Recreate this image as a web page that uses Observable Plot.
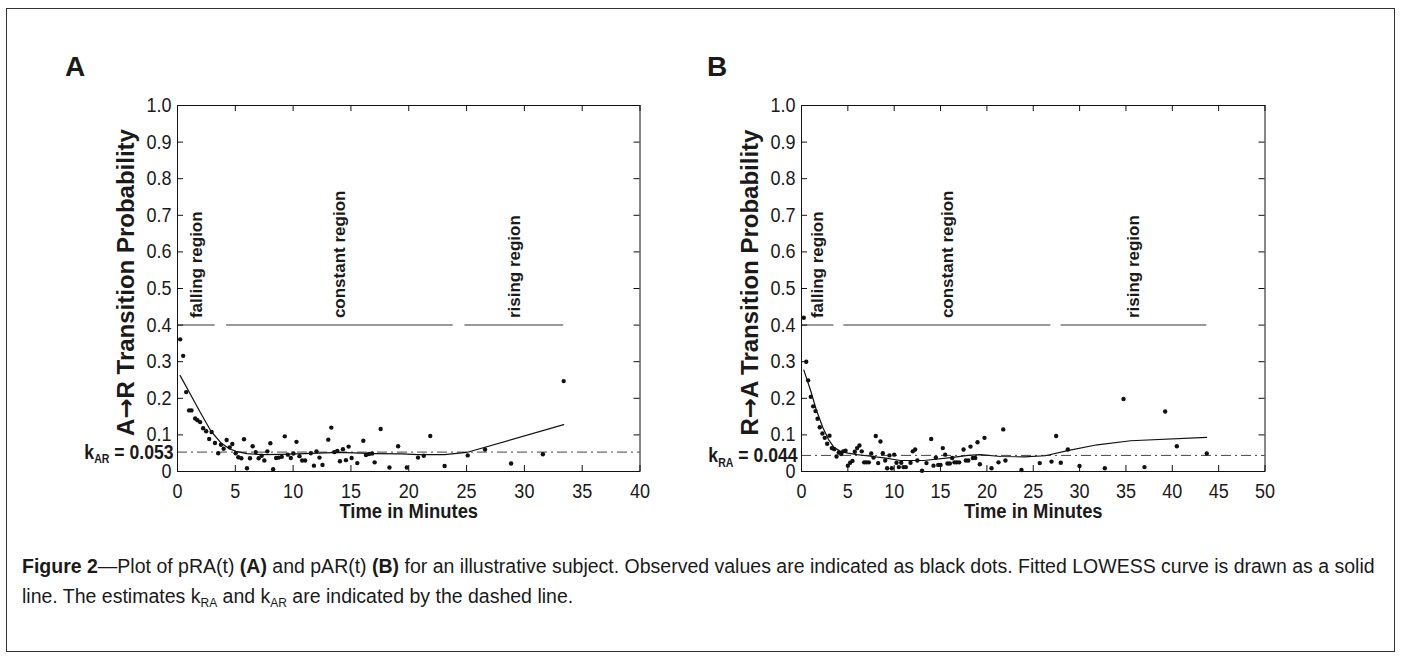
<!DOCTYPE html>
<html><head><meta charset="utf-8">
<script src="https://cdn.jsdelivr.net/npm/d3@7"></script>
<script src="https://cdn.jsdelivr.net/npm/@observablehq/plot@0.6"></script>
<style>
body{margin:0;background:#fff;}
#fig{position:relative;width:1401px;height:658px;font-family:"Liberation Sans",Arial,sans-serif;color:#1a1a1a;overflow:hidden;}
#frame{position:absolute;left:6px;top:8px;width:1389px;height:644px;border:1px solid #333;box-sizing:border-box;}
.panel{position:absolute;top:0;}
.letter{position:absolute;font-weight:bold;font-size:28px;line-height:28px;top:53px;}
#caption{position:absolute;left:22px;top:551px;font-size:19.5px;line-height:30px;white-space:nowrap;}
#caption sub{font-size:12px;vertical-align:-4px;line-height:0;}
</style></head>
<body>
<div id="fig">
  <div id="frame"></div>
  <div class="letter" style="left:65px">A</div>
  <div class="letter" style="left:707px">B</div>
  <div class="panel" id="pA" style="left:0px"></div>
  <div class="panel" id="pB" style="left:700px"></div>
  <div id="caption"><b>Figure 2</b>—Plot of pRA(t) <b>(A)</b> and pAR(t) <b>(B)</b> for an illustrative subject. Observed values are indicated as black dots. Fitted LOWESS curve is drawn as a solid<br>line. The estimates k<sub>RA</sub> and k<sub>AR</sub> are indicated by the dashed line.</div>
</div>
<script>
// ---------- tick labels ----------
const yTicks = [0, 0.1, 0.2, 0.3, 0.4, 0.5, 0.6, 0.7, 0.8, 0.9, 1.0];
const yTickLabels = ["0", "0.1", "0.2", "0.3", "0.4", "0.5", "0.6", "0.7", "0.8", "0.9", "1.0"];
const xTicksA = [0, 5, 10, 15, 20, 25, 30, 35, 40];
const xTicksB = [0, 5, 10, 15, 20, 25, 30, 35, 40, 45, 50];

// ---------- regions ----------
const regionNames = ["falling region", "constant region", "rising region"];
const regionLevel = 0.4;
const regionStartA = [0, 4.25, 24.86];
const regionEndA = [3.26, 23.85, 33.4];
const regionStartB = [0, 4.57, 28.0];
const regionEndB = [3.5, 26.9, 43.72];

// ---------- panel A: observed ----------
const timeA = [0.23,0.49,0.75,1.0,1.21,1.53,1.73,1.96,2.22,2.48,2.74,2.95,3.24,3.52,3.76,3.99,4.25,4.51,4.74,5.03,5.26,5.52,5.75,6.01,6.27,6.5,6.76,7.02,7.28,7.51,7.77,8.03,8.27,8.53,8.76,9.02,9.28,9.54,9.8,10.03,10.29,10.55,10.78,11.04,11.53,11.8,12.02,12.28,12.54,13.04,13.3,13.56,13.82,14.05,14.31,14.57,14.8,15.06,15.55,16.07,16.3,16.56,16.83,17.05,17.57,18.33,19.08,19.83,20.8,21.3,21.86,23.1,25.1,26.6,28.85,31.6,33.4];
const probA = [0.361,0.316,0.217,0.167,0.167,0.145,0.14,0.135,0.118,0.11,0.089,0.108,0.078,0.05,0.073,0.062,0.086,0.066,0.075,0.05,0.039,0.036,0.088,0.009,0.036,0.069,0.053,0.036,0.043,0.03,0.055,0.077,0.006,0.037,0.038,0.04,0.096,0.046,0.037,0.049,0.081,0.042,0.03,0.03,0.05,0.016,0.055,0.038,0.018,0.087,0.12,0.053,0.056,0.028,0.061,0.031,0.068,0.037,0.023,0.084,0.045,0.048,0.049,0.025,0.116,0.011,0.069,0.011,0.038,0.043,0.097,0.015,0.044,0.06,0.022,0.047,0.247];
// ---------- panel A: LOWESS ----------
const lowessTimeA = [0.23,1.15,2.0,2.9,3.76,4.5,5.06,6.0,7.3,9,11,14,17,19.4,20.8,23.1,25.0,33.4];
const lowessA = [0.262,0.209,0.16,0.11,0.078,0.062,0.055,0.049,0.046,0.047,0.049,0.052,0.049,0.048,0.046,0.046,0.052,0.128];
const kAR = 0.053;

// ---------- panel B: observed ----------
const timeB = [0.25,0.51,0.72,1.0,1.26,1.51,1.73,1.97,2.26,2.51,2.77,3.02,3.27,3.53,3.78,4.02,4.28,4.5,4.75,5.0,5.25,5.5,5.75,6.0,6.25,6.5,6.76,7.0,7.26,7.52,7.77,8.01,8.27,8.52,8.77,9.03,9.24,9.49,9.74,10.0,10.25,10.5,10.76,11.0,11.25,11.76,12.0,12.26,12.5,13.0,13.48,13.99,14.24,14.49,14.75,15.0,15.24,15.5,15.75,16.0,16.26,16.5,16.75,17.01,17.48,17.73,17.99,18.23,18.48,18.74,18.99,19.24,19.74,20.5,21.25,21.76,22.0,23.73,25.7,26.97,27.47,27.97,28.73,29.99,32.72,34.74,37.0,39.23,40.49,43.72];
const probB = [0.42,0.30,0.249,0.204,0.178,0.165,0.144,0.121,0.104,0.092,0.076,0.098,0.064,0.061,0.041,0.052,0.048,0.055,0.057,0.016,0.024,0.029,0.054,0.064,0.071,0.055,0.025,0.025,0.025,0.049,0.038,0.097,0.023,0.082,0.05,0.03,0.009,0.044,0.009,0.046,0.024,0.012,0.024,0.012,0.012,0.024,0.055,0.06,0.03,0.002,0.023,0.089,0.016,0.038,0.018,0.018,0.064,0.046,0.022,0.022,0.037,0.025,0.025,0.025,0.06,0.03,0.03,0.068,0.037,0.037,0.08,0.02,0.092,0.009,0.025,0.115,0.03,0.004,0.023,0.027,0.097,0.024,0.06,0.015,0.009,0.198,0.012,0.164,0.069,0.049];
// ---------- panel B: LOWESS ----------
const lowessTimeB = [0.25,1.0,1.6,2.3,2.9,3.5,4.2,5,6,7,8.9,10.7,13.2,16.1,18,19.3,21.5,24,26.3,28.7,31.9,35.5,43.7];
const lowessB = [0.277,0.22,0.168,0.12,0.088,0.066,0.055,0.05,0.046,0.043,0.037,0.03,0.03,0.038,0.044,0.046,0.041,0.04,0.043,0.057,0.073,0.084,0.093];
const kRA = 0.044;

const NS = "http://www.w3.org/2000/svg";
function tspan(txt, attrs) {
  const t = document.createElementNS(NS, "tspan");
  t.textContent = txt;
  for (const k in attrs) t.setAttribute(k, attrs[k]);
  return t;
}
function squeeze(el, factor) {
  const L = el.getComputedTextLength();
  if (L > 0) {
    el.setAttribute("textLength", (L * factor).toFixed(2));
    el.setAttribute("lengthAdjust", "spacingAndGlyphs");
  }
}

function makePanel(host, o) {
  const W = o.width, H = 540, mt = 105, mb = 69;
  const innerW = W - o.ml - o.mr, innerH = H - mt - mb;
  const pts = o.times.map((t, i) => ({t, p: o.probs[i]}));
  const low = o.lowT.map((t, i) => ({t, p: o.lowP[i]}));
  const regs = regionNames.map((name, i) => ({name, x1: o.rs[i], x2: o.re[i]}));
  const kText = "k" + o.kName + " = " + o.k.toFixed(3);
  const svg = Plot.plot({
    width: W, height: H,
    marginLeft: o.ml, marginRight: o.mr, marginTop: mt, marginBottom: mb,
    style: {fontFamily: '"Liberation Sans", Arial, sans-serif', fontSize: "20px", color: "#1a1a1a", background: "transparent", overflow: "visible"},
    x: {domain: [0, o.xTicks[o.xTicks.length - 1]]},
    y: {domain: [0, 1]},
    marks: [
      Plot.ruleY([o.k], {y: d => d, stroke: "#444", strokeWidth: 1, strokeDasharray: "10,4,2,4"}),
      Plot.line(low, {x: "t", y: "p", stroke: "#111", strokeWidth: 1.2}),
      Plot.dot(pts, {x: "t", y: "p", r: 2.2, fill: "#111", stroke: null}),
      Plot.ruleY(regs, {y: () => regionLevel, x1: "x1", x2: "x2", stroke: "#777", strokeWidth: 1.5}),
      Plot.text(regs, {x: d => (d.x1 + d.x2) / 2, y: () => regionLevel, text: "name", rotate: -90, textAnchor: "start", dy: -7, fontSize: 17, fontWeight: "bold"}),
      Plot.tickX(o.xTicks, {x: d => d, insetTop: innerH - 6, stroke: "#111"}),
      Plot.tickX(o.xTicks, {x: d => d, insetBottom: innerH - 6, stroke: "#111"}),
      Plot.tickY(yTicks, {y: d => d, insetRight: innerW - 6, stroke: "#111"}),
      Plot.tickY(yTicks, {y: d => d, insetLeft: innerW - 6, stroke: "#111"}),
      Plot.axisX(o.xTicks, {tickSize: 0, tickPadding: 12, fontSize: 20, label: null}),
      Plot.axisY(yTicks, {tickSize: 0, tickPadding: 6, fontSize: 20, label: null, tickFormat: d => yTickLabels[yTicks.indexOf(d)]}),
      Plot.text([o.yLabel], {text: d => d, frameAnchor: "left", textAnchor: "middle", lineAnchor: "middle", rotate: -90, dx: -51, dy: -6, fontSize: 24, fontWeight: "bold"}),
      Plot.text([o.xLabel], {text: d => d, frameAnchor: "bottom", textAnchor: "middle", lineAnchor: "middle", dy: 40, fontSize: 20, fontWeight: "bold"}),
      Plot.text([o.k], {y: d => d, text: () => kText, frameAnchor: "left", textAnchor: "end", lineAnchor: "middle", dx: -4, fontSize: 20, fontWeight: "bold"}),
      Plot.frame({stroke: "#111", strokeWidth: 1})
    ]
  });
  host.append(svg);
  svg.querySelectorAll("text").forEach(t => {
    const s = t.textContent;
    if (s === kText) {
      t.textContent = "";
      t.append(tspan("k"), tspan(o.kName, {"font-size": "12", dy: "5"}), tspan(" = " + o.k.toFixed(3), {dy: "-5"}));
      squeeze(t, 0.88);
    } else if (s === o.yLabel) {
      const [a, b] = s.split("→");
      t.textContent = "";
      t.append(tspan(a), tspan("→", {"font-family": "DejaVu Sans"}), tspan(b));
    } else if (s === o.xLabel) {
      squeeze(t, 0.92);
    }
  });
  svg.querySelectorAll('g[aria-label="x-axis tick label"] text, g[aria-label="y-axis tick label"] text').forEach(t => squeeze(t, 0.9));
}

makePanel(document.getElementById("pA"), {
  width: 700, ml: 177, mr: 60.5, xTicks: xTicksA,
  times: timeA, probs: probA, lowT: lowessTimeA, lowP: lowessA,
  k: kAR, kName: "AR", rs: regionStartA, re: regionEndA,
  yLabel: "A→R Transition Probability", xLabel: "Time in Minutes"
});
makePanel(document.getElementById("pB"), {
  width: 701, ml: 101, mr: 136.5, xTicks: xTicksB,
  times: timeB, probs: probB, lowT: lowessTimeB, lowP: lowessB,
  k: kRA, kName: "RA", rs: regionStartB, re: regionEndB,
  yLabel: "R→A Transition Probability", xLabel: "Time in Minutes"
});
</script>
</body></html>
